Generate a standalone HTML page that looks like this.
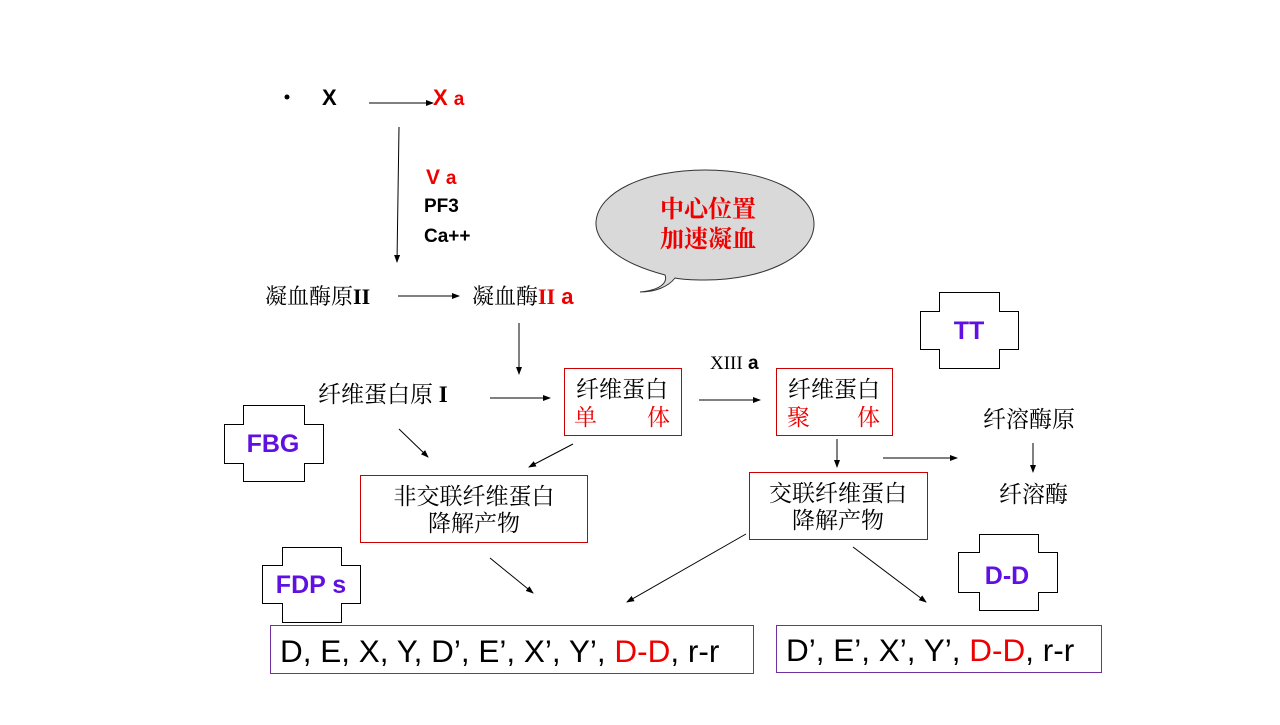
<!DOCTYPE html>
<html><head><meta charset="utf-8"><style>
body{margin:0;background:#fff;}
svg text{font-family:"Liberation Sans","Noto Sans CJK SC",sans-serif;}
.s{font-family:"Noto Serif CJK SC","Liberation Serif",serif !important;}
</style></head><body>
<svg width="1280" height="720" xmlns="http://www.w3.org/2000/svg">
<defs><marker id="a" markerWidth="8" markerHeight="8" refX="7" refY="4" orient="auto" markerUnits="userSpaceOnUse"><path d="M0,1 L8,4 L0,7z" fill="#000"/></marker></defs>
<g stroke="#000" stroke-width="1" fill="none" marker-end="url(#a)">
<line x1="369" y1="103" x2="433" y2="103"/>
<line x1="399" y1="127" x2="397" y2="262"/>
<line x1="398" y1="296" x2="459" y2="296"/>
<line x1="519" y1="323" x2="519" y2="374"/>
<line x1="490" y1="398" x2="550" y2="398"/>
<line x1="699" y1="400" x2="760" y2="400"/>
<line x1="399" y1="429" x2="428" y2="457"/>
<line x1="573" y1="444" x2="529" y2="467"/>
<line x1="837" y1="439" x2="837" y2="467"/>
<line x1="883" y1="458" x2="957" y2="458"/>
<line x1="1033" y1="443" x2="1033" y2="472"/>
<line x1="490" y1="558" x2="533" y2="593"/>
<line x1="746" y1="534" x2="627" y2="602"/>
<line x1="853" y1="547" x2="926" y2="602"/>
</g>
<circle cx="287" cy="97" r="2.5" fill="#000"/>
<text x="322" y="105" font-size="22" font-weight="bold">X</text>
<text x="433" y="105" font-size="22" font-weight="bold" fill="#e00">X <tspan font-size="19">a</tspan></text>
<text x="426" y="184" font-size="21" font-weight="bold" fill="#e00">V <tspan font-size="19">a</tspan></text>
<text x="424" y="212" font-size="19" font-weight="bold">PF3</text>
<text x="424" y="242" font-size="19" font-weight="bold">Ca++</text>
<text class="s" x="265" y="304" font-size="22">凝血酶原<tspan font-weight="bold" font-family="Liberation Serif">II</tspan></text>
<text class="s" x="472" y="304" font-size="22">凝血酶<tspan fill="#e00" font-weight="bold" font-family="Liberation Serif">II</tspan><tspan fill="#e00" font-weight="bold" font-family="Liberation Sans"> a</tspan></text>
<path d="M640,292 C660,290 668,283 665,275 C615,262 595,240 596,222 C598,192 645,170 705,170 C765,170 814,192 814,224 C814,256 765,280 705,280 C690,280 680,279 675,278 C668,287 655,292 640,292Z" fill="#d9d9d9" stroke="#333" stroke-width="1"/>
<text class="s" x="708" y="217" font-size="24" fill="#e00" text-anchor="middle" font-weight="bold">中心位置</text>
<text class="s" x="708" y="247" font-size="24" fill="#e00" text-anchor="middle" font-weight="bold">加速凝血</text>
<text class="s" x="318" y="402" font-size="23">纤维蛋白原<tspan font-weight="bold" font-family="Liberation Serif"> I</tspan></text>
<text x="710" y="369" font-size="19" font-weight="bold"><tspan font-weight="normal" font-family="Liberation Serif">XIII</tspan> a</text>
<g fill="#fff" stroke="#c00" stroke-width="1">
<rect x="564.5" y="368.5" width="117" height="67"/>
<rect x="776.5" y="368.5" width="116" height="67"/>
<rect x="360.5" y="475.5" width="227" height="67"/>
<rect x="749.5" y="472.5" width="178" height="67"/>
</g>
<text class="s" x="622" y="397" font-size="23" text-anchor="middle">纤维蛋白</text>
<text class="s" x="574" y="425" font-size="23" fill="#e00">单</text>
<text class="s" x="647" y="425" font-size="23" fill="#e00">体</text>
<text class="s" x="834" y="397" font-size="23" text-anchor="middle">纤维蛋白</text>
<text class="s" x="787" y="425" font-size="23" fill="#e00">聚</text>
<text class="s" x="857" y="425" font-size="23" fill="#e00">体</text>
<text class="s" x="474" y="504" font-size="23" text-anchor="middle">非交联纤维蛋白</text>
<text class="s" x="474" y="531" font-size="23" text-anchor="middle">降解产物</text>
<text class="s" x="838" y="501" font-size="23" text-anchor="middle">交联纤维蛋白</text>
<text class="s" x="838" y="528" font-size="23" text-anchor="middle">降解产物</text>
<text class="s" x="983" y="427" font-size="23">纤溶酶原</text>
<text class="s" x="999" y="502" font-size="23">纤溶酶</text>
<g fill="#fff" stroke="#000" stroke-width="1">
<path d="M243.5,405.5H304.5V424.5H323.5V463.5H304.5V481.5H243.5V463.5H224.5V424.5H243.5Z"/>
<path d="M939.5,292.5H999.5V311.5H1018.5V349.5H999.5V368.5H939.5V349.5H920.5V311.5H939.5Z"/>
<path d="M282.5,547.5H341.5V565.5H360.5V603.5H341.5V622.5H282.5V603.5H262.5V565.5H282.5Z"/>
<path d="M979.5,534.5H1038.5V552.5H1057.5V592.5H1038.5V610.5H979.5V592.5H958.5V552.5H979.5Z"/>
</g>
<g fill="#6010e0" font-weight="bold" font-size="25" text-anchor="middle">
<text x="273" y="452">FBG</text>
<text x="969" y="339">TT</text>
<text x="311" y="593">FDP s</text>
<text x="1007" y="584">D-D</text>
</g>
<rect x="270.5" y="625.5" width="483" height="48" fill="none" stroke="#7030a0"/>
<rect x="776.5" y="625.5" width="325" height="47" fill="none" stroke="#7030a0"/>
<text x="280" y="662" font-size="31.5">D, E, X, Y, D’, E’, X’, Y’, <tspan fill="#e00">D-D</tspan>, r-r</text>
<text x="786" y="661" font-size="31.5">D’, E’, X’, Y’, <tspan fill="#e00">D-D</tspan>, r-r</text>
</svg>
</body></html>
